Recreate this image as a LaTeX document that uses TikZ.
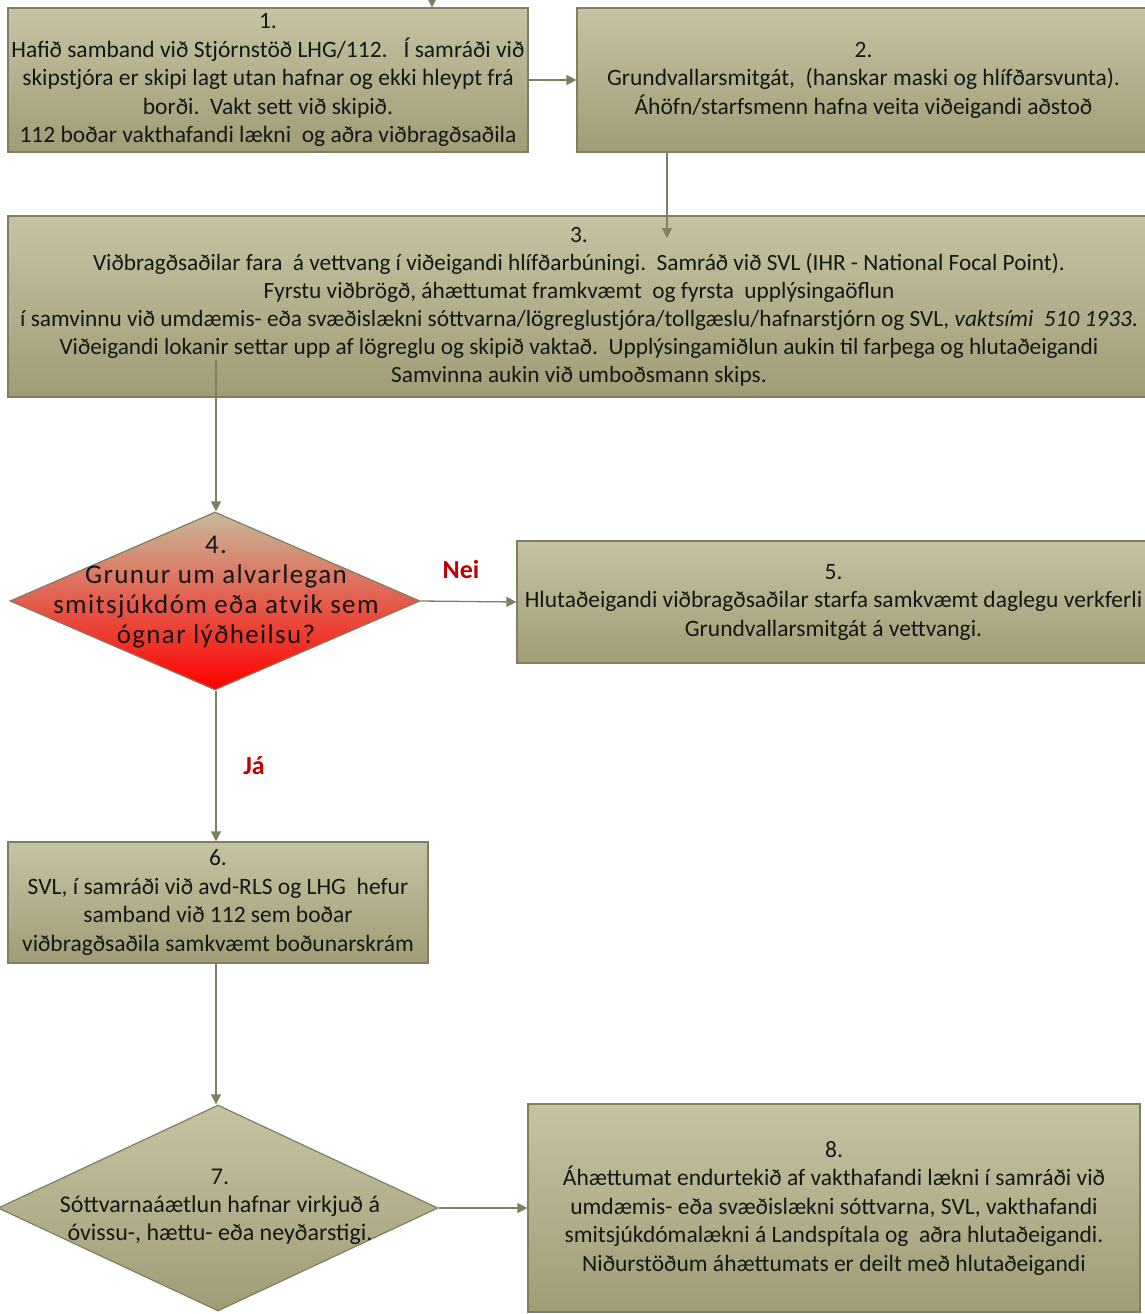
\documentclass[tikz,border=0pt]{standalone}
\usepackage{fontspec}
\setmainfont{Carlito}
\usetikzlibrary{shapes.geometric,arrows.meta}
\definecolor{boxtop}{RGB}{198,195,163}
\definecolor{boxbot}{RGB}{160,156,118}
\definecolor{edge}{RGB}{128,126,96}
\definecolor{lbl}{RGB}{192,0,0}
\definecolor{txt}{RGB}{22,22,22}
\definecolor{dtop}{RGB}{200,186,154}
\begin{document}
\begin{tikzpicture}[x=1pt,y=-1pt,
  box/.style={draw=edge, line width=1.2pt, top color=boxtop, bottom color=boxbot,
    inner sep=0pt, align=center, text=txt, font=\fontsize{23.5}{28.5}\selectfont},
  dia/.style={draw=edge, line width=1.2pt, shape=diamond, inner sep=0pt},
  diatext/.style={align=center, text=txt, inner sep=0pt},
  conn/.style={draw=edge, line width=1.3pt, -{Triangle[length=10pt,width=10pt]}},
  lab/.style={text=lbl, font=\fontsize{26}{28}\selectfont\bfseries, inner sep=0pt}]
\useasboundingbox (0,0) rectangle (1145,1314);

\node[box, minimum width=520pt, minimum height=144pt] (b1) at (268,80)
  {1.\\Hafið samband við Stjórnstöð LHG/112.\ \ \ Í samráði við\\skipstjóra er skipi lagt utan hafnar og ekki hleypt frá\\borði.\ \ Vakt sett við skipið.\\112 boðar vakthafandi lækni\ \ og aðra viðbragðsaðila};

\node[box, minimum width=573pt, minimum height=144pt] (b2) at (863.5,80)
  {2.\\Grundvallarsmitgát,\ \ (hanskar maski og hlífðarsvunta).\\Áhöfn/starfsmenn hafna veita viðeigandi aðstoð};

\node[box, minimum width=1142pt, minimum height=181pt, font=\fontsize{23.3}{28}\selectfont] (b3) at (579,306.5)
  {3.\\Viðbragðsaðilar fara\ \ á vettvang í viðeigandi hlífðarbúningi.\ \ Samráð við SVL (IHR - National Focal Point).\\Fyrstu viðbrögð, áhættumat framkvæmt\ \ og fyrsta\ \ upplýsingaöflun\\í samvinnu við umdæmis- eða svæðislækni sóttvarna/lögreglustjóra/tollgæslu/hafnarstjórn og SVL, \textit{vaktsími\ \ 510 1933}.\\Viðeigandi lokanir settar upp af lögreglu og skipið vaktað.\ \ Upplýsingamiðlun aukin til farþega og hlutaðeigandi\\Samvinna aukin við umboðsmann skips.};

\node[dia, minimum width=410pt, minimum height=178pt, top color=dtop, bottom color=red] (d4) at (215,601) {};
\node[diatext, font=\fontsize{27}{30}\selectfont\addfontfeatures{LetterSpace=5}] (t4) at (216,592)
  {4.\\Grunur um alvarlegan\\smitsjúkdóm eða atvik sem\\ógnar lýðheilsu?};

\node[box, minimum width=633pt, minimum height=122pt] (b5) at (833.5,602)
  {5.\\Hlutaðeigandi viðbragðsaðilar starfa samkvæmt daglegu verkferli\\Grundvallarsmitgát á vettvangi.};

\node[box, minimum width=420pt, minimum height=121pt] (b6) at (218,902.5)
  {6.\\SVL, í samráði við avd-RLS og LHG\ \ hefur\\samband við 112 sem boðar\\viðbragðsaðila samkvæmt boðunarskrám};

\node[dia, minimum width=440pt, minimum height=206pt, top color=boxtop, bottom color=boxbot] (d7) at (218,1208) {};
\node[diatext, font=\fontsize{24}{28}\selectfont] (t7) at (220,1207)
  {7.\\Sóttvarnaáætlun hafnar virkjuð á\\óvissu-, hættu- eða neyðarstigi.};

\node[box, minimum width=612pt, minimum height=208pt] (b8) at (834,1208)
  {8.\\Áhættumat endurtekið af vakthafandi lækni í samráði við\\umdæmis- eða svæðislækni sóttvarna, SVL, vakthafandi\\smitsjúkdómalækni á Landspítala og\ \ aðra hlutaðeigandi.\\Niðurstöðum áhættumats er deilt með hlutaðeigandi};

\node[lab] (nei) at (461,569) {Nei};
\node[lab] (ja) at (254,766) {Já};

\coordinate (top) at (432,-12);
\coordinate (c2) at (667,152);
\coordinate (c2e) at (667,238);
\coordinate (c3) at (216,360);

\draw[conn] (top) -- (top |- b1.north);
\draw[conn] (b1.east) -- (b2.west);
\draw[conn] (c2) -- (c2e);
\draw[conn] (c3) -- (c3 |- d4.north);
\draw[conn] (d4.east) -- (b5.west);
\draw[conn] (d4.south -| c3) -- (c3 |- b6.north);
\draw[conn] (b6.south -| c3) -- (c3 |- d7.north);
\draw[conn] (d7.east) -- (b8.west);
\end{tikzpicture}
\end{document}
